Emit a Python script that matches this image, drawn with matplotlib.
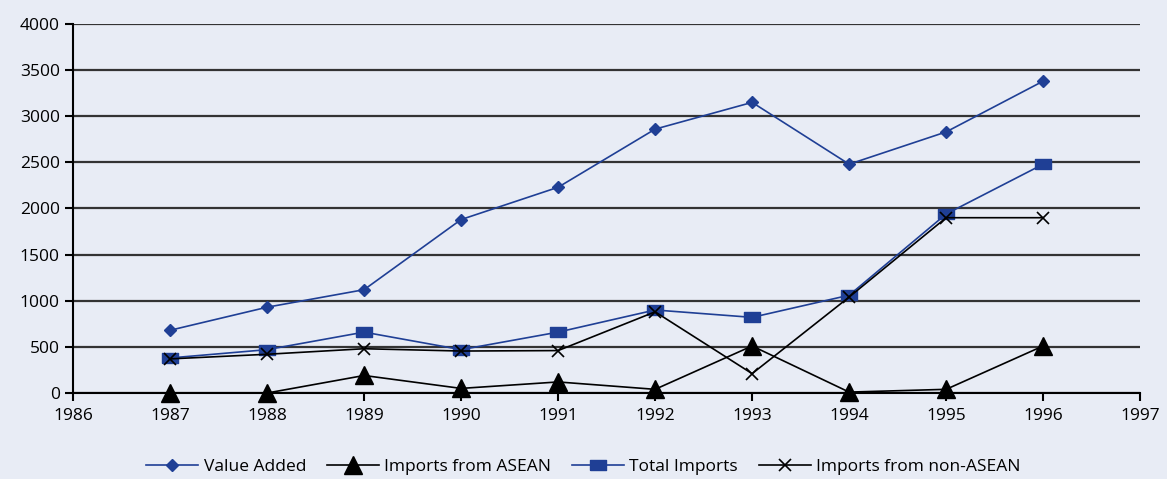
import matplotlib.pyplot as plt

years = [1987, 1988, 1989, 1990, 1991, 1992, 1993, 1994, 1995, 1996]
value_added = [680, 930, 1120, 1880, 2230, 2860, 3150, 2480, 2830, 3380]
imports_asean = [0, 0, 190, 50, 120, 40, 510, 10, 40, 510]
total_imports = [380, 470, 660, 470, 660, 900, 820, 1060, 1940, 2480]
imports_non_asean = [370, 420, 480, 455, 460, 880, 210, 1040, 1900, 1900]

bg = '#e8ecf5'
blue = '#1f3f95'

plt.rcParams['font.family'] = ['Open Sans', 'DejaVu Sans']

fig = plt.figure(figsize=(11.67, 4.79), dpi=100, facecolor=bg)
ax = fig.add_axes([0.0626, 0.1795, 0.9144, 0.7705])
ax.set_facecolor(bg)

rect = [(-1.6, -1), (1.6, -1), (1.6, 1), (-1.6, 1), (-1.6, -1)]

ax.plot(years, value_added, color=blue, lw=1.2, marker='D', ms=6,
        label='Value Added', zorder=3, clip_on=False)
ax.plot(years, imports_asean, color='black', lw=1.2, marker='^', ms=13,
        label='Imports from ASEAN', zorder=4, clip_on=False)
ax.plot(years, total_imports, color=blue, lw=1.2, marker=rect, ms=12,
        label='Total Imports', zorder=3, clip_on=False)
ax.plot(years, imports_non_asean, color='black', lw=1.2, marker='x', ms=9,
        mew=1.2, label='Imports from non-ASEAN', zorder=5, clip_on=False)

ax.set_xlim(1986, 1997)
ax.set_ylim(0, 4000)
ax.set_xticks(range(1986, 1998))
ax.set_yticks(range(0, 4001, 500))
ax.yaxis.grid(True, color='#333333', lw=1.6)
ax.set_axisbelow(True)
for s in ['top', 'right']:
    ax.spines[s].set_visible(False)
ax.spines['left'].set_linewidth(1.5)
ax.spines['bottom'].set_linewidth(1.5)
ax.tick_params(axis='both', labelsize=12.5, width=1.5, length=6, colors='black')
ax.tick_params(axis='x', pad=5)

fig.legend(loc='lower center', bbox_to_anchor=(0.5, -0.025), ncol=4,
           frameon=False, fontsize=12.5, handlelength=3, handletextpad=0.3,
           columnspacing=1.2)

plt.savefig('out.png', dpi=100, facecolor=bg)
